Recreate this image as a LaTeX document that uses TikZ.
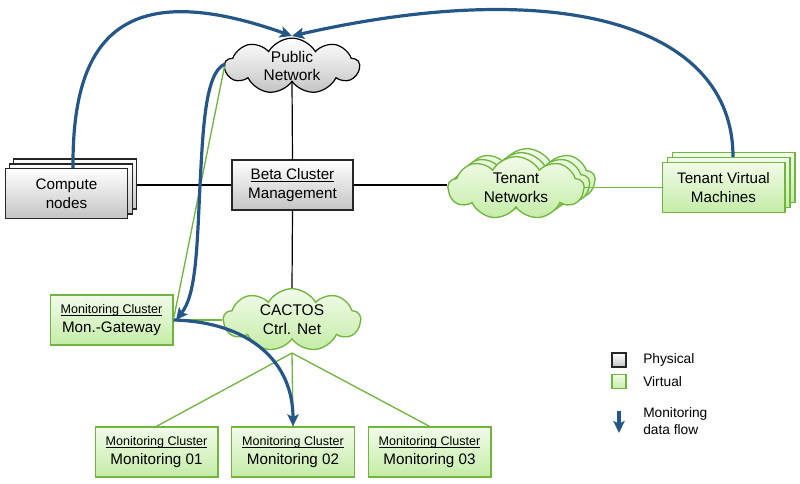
\documentclass[tikz,border=0pt]{standalone}
\usepackage{fontspec}
\setmainfont{Liberation Sans}
\usetikzlibrary{shapes.symbols,arrows.meta}
\definecolor{flowblue}{RGB}{37,86,136}
\definecolor{vgreen}{RGB}{112,182,62}
\definecolor{vtop}{RGB}{242,251,234}
\definecolor{vbot}{RGB}{196,236,166}
\definecolor{gbot}{RGB}{196,196,196}
\newcommand\mysubfont{\fontsize{9.4}{11}\selectfont}
\newlength\myulw
\newcommand\myul[1]{\settowidth\myulw{#1}\rlap{\rule[-1.4pt]{\myulw}{0.55pt}}#1}
\begin{document}
\begin{tikzpicture}[x=0.75pt,y=-0.75pt,
  boxbase/.style={rectangle, minimum width=92pt, minimum height=37.5pt, align=center, inner sep=1pt, font=\fontsize{11.4}{14}\selectfont},
  phys/.style={boxbase, draw=black!85, line width=0.9pt, top color=white, bottom color=gbot},
  virt/.style={boxbase, draw=vgreen, line width=1pt, top color=vtop, bottom color=vbot},
  cloudbase/.style={cloud, cloud puffs=9, cloud puff arc=120, cloud ignores aspect, minimum width=101pt, minimum height=40pt, align=center, inner sep=0pt, font=\fontsize{11.6}{14}\selectfont},
  pcloud/.style={cloudbase, draw=black, line width=0.9pt, top color=white, bottom color=gbot},
  vcloud/.style={cloudbase, draw=vgreen, line width=1pt, top color=vtop, bottom color=vbot},
  blk/.style={draw=black, line width=0.9pt},
  vline/.style={draw=vgreen, line width=1pt},
  flow/.style={draw=flowblue, line width=2.4pt, -{Stealth[length=9pt,width=8.5pt,inset=2pt]}},
  legtxt/.style={anchor=west, font=\fontsize{10.3}{13}\selectfont, align=left, inner sep=0pt}
]
\useasboundingbox (0,0) rectangle (800,484);

% Compute nodes (stacked)
\node[phys] (cn3) at (75,184) {};
\node[phys] (cn2) at (71,189) {};
\node[phys] (cn1) at (66.5,193.5) {Compute\\nodes};

% Public network
\node[pcloud] (pub) at (292,66) {Public\\Network};

% Beta cluster
\node[phys, minimum width=90.75pt] (beta) at (292.5,185) {\myul{Beta Cluster}\\Management};

% Tenant networks (stacked clouds)
\node[vcloud, minimum width=102pt, minimum height=47pt] (tn3) at (527,180) {};
\node[vcloud, minimum width=102pt, minimum height=47pt] (tn2) at (521.5,184) {};
\node[vcloud, minimum width=102pt, minimum height=47pt] (tn1) at (516,188) {Tenant\\Networks};

% Tenant VMs (stacked)
\node[virt] (tvm3) at (733.5,177.5) {};
\node[virt] (tvm2) at (728.5,182.5) {};
\node[virt] (tvm1) at (723.5,187.5) {Tenant Virtual\\Machines};

% Monitoring gateway
\node[virt] (gw) at (111.5,320) {{\mysubfont\myul{Monitoring Cluster}}\\Mon.-Gateway};

% CACTOS
\node[vcloud, minimum width=103pt, minimum height=47pt] (cac) at (292,320) {CACTOS\\Ctrl. Net};

% Bottom monitoring nodes
\node[virt] (m1) at (156.5,452) {{\mysubfont\myul{Monitoring Cluster}}\\Monitoring 01};
\node[virt] (m2) at (293,452) {{\mysubfont\myul{Monitoring Cluster}}\\Monitoring 02};
\node[virt] (m3) at (429.5,452) {{\mysubfont\myul{Monitoring Cluster}}\\Monitoring 03};

% Black connectors
\draw[blk] (pub.south) -- (beta.north);
\draw[blk] (beta.south) -- (cac.north);
\draw[blk] (beta.west) -- (beta.west -| cn3.east);
\draw[blk] (beta.east) -- (beta.east -| tn1.west);

% Green connectors
\draw[vline] (tn1.east |- tvm1.west) -- (tvm1.west);
\draw[vline] (gw.east) -- (gw.east -| cac.west);
\coordinate (cbot) at (292,353);
\draw[vline] (cbot) -- (m1.north);
\draw[vline] (cbot) -- (m2.north);
\draw[vline] (cbot) -- (m3.north);
\coordinate (pl) at (225,64);
\coordinate (gwr) at (174,317);
\draw[vline] (pl) -- (gwr);

% Blue monitoring flows
\coordinate (ptop) at (292,36);
\draw[flow] (cn1.north -| 73,0) .. controls (72,40) and (120,-25) .. (ptop);
\draw[flow] (tvm2.north -| 733,0) .. controls (733,25) and (560,-25) .. (ptop);
\draw[flow] (pl) .. controls (205,72) and (203,130) .. (200,185) .. controls (197,250) and (196,295) .. (176,320);
\draw[flow] (gw.east) .. controls (250,322) and (293,362) .. (m2.north);

% Legend
\node[draw=black!85, line width=0.8pt, top color=white, bottom color=gbot, minimum size=10.5pt, inner sep=0pt] (lp) at (619,360) {};
\node[draw=vgreen, line width=0.9pt, top color=vtop, bottom color=vbot, minimum size=10.5pt, inner sep=0pt] (lv) at (619,381.5) {};
\node[legtxt] (lpt) at (643,360) {Physical};
\node[legtxt] (lvt) at (643,381.5) {Virtual};
\coordinate (la1) at (619,411);
\coordinate (la2) at (619,433);
\draw[flow] (la1) -- (la2);
\node[legtxt] (lft) at (643,421) {Monitoring\\data flow};
\end{tikzpicture}
\end{document}
